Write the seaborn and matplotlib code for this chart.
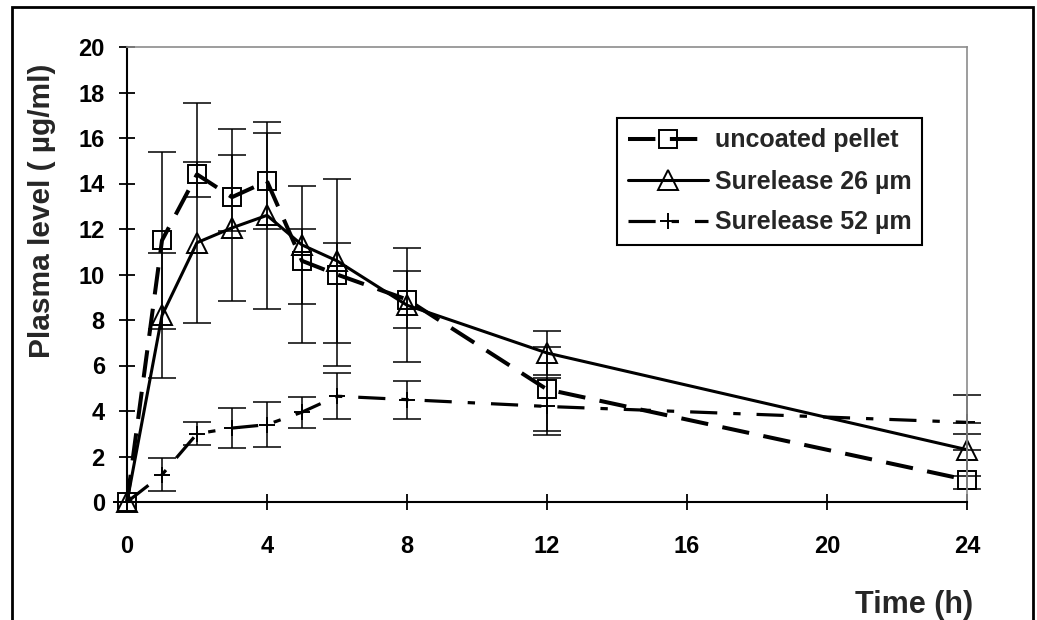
import seaborn as sns
import matplotlib.pyplot as plt
from matplotlib.patches import Rectangle

# Sampling times (h)
time_h = [0, 1, 2, 3, 4, 5, 6, 8, 12, 24]

# Plasma levels (µg/ml)
uncoated = [0, 11.5, 14.4, 13.4, 14.1, 10.6, 10.0, 8.9, 4.95, 0.97]
uncoated_err_low = [0, 3.9, 1.0, 1.5, 2.1, 3.6, 4.0, 1.25, 1.85, 0.4]
uncoated_err_high = [0, 3.9, 3.15, 3.0, 2.1, 1.4, 1.4, 1.25, 1.85, 2.0]

sure26 = [0, 8.2, 11.4, 12.05, 12.6, 11.3, 10.6, 8.65, 6.55, 2.3]
sure26_err = [0, 2.75, 3.55, 3.2, 4.1, 2.6, 3.6, 2.5, 0.95, 1.17]

sure52 = [0, 1.2, 3.0, 3.25, 3.4, 3.95, 4.65, 4.5, 4.2, 3.5]
sure52_err = [0, 0.72, 0.5, 0.88, 0.98, 0.68, 1.0, 0.83, 1.25, 1.2]

x_ticks = [0, 4, 8, 12, 16, 20, 24]
y_ticks = [0, 2, 4, 6, 8, 10, 12, 14, 16, 18, 20]

sns.set_style("white")
plt.rcParams['font.family'] = ['Liberation Sans', 'DejaVu Sans']
plt.rcParams['font.weight'] = 'bold'

fig = plt.figure(figsize=(10.37, 6.2), dpi=100)
ax = fig.add_axes([127 / 1037, 118 / 620, 840 / 1037, 455 / 620])

series = [
    ('uncoated pellet', uncoated, [uncoated_err_low, uncoated_err_high], 's', (0, (6.8, 3.6)), 2.9, 13),
    ('Surelease 26 µm', sure26, [sure26_err, sure26_err], '^', '-', 2.2, 14),
    ('Surelease 52 µm', sure52, [sure52_err, sure52_err], '+', (0, (8.5, 5.0, 2.3, 5.0)), 2.3, 11),
]

for label, vals, err, mk, ls, lw, ms in series:
    ax.errorbar(time_h, vals, yerr=err, fmt='none', ecolor='black',
                elinewidth=1.1, capsize=10, capthick=1.1, clip_on=False)
    sns.lineplot(x=time_h, y=vals, ax=ax, color='black', linestyle=ls,
                 linewidth=lw, marker=mk, markersize=ms,
                 markerfacecolor='none', markeredgecolor='black',
                 markeredgewidth=1.4, label=label, clip_on=False)

ax.set_xlim(0, 24)
ax.set_ylim(0, 20)
ax.set_xticks(x_ticks)
ax.set_yticks(y_ticks)
ax.tick_params(direction='inout', length=12, width=1.3, labelsize=17,
               colors='black', bottom=True, left=True, top=False, right=False)
ax.tick_params(axis='x', pad=18)
ax.tick_params(axis='y', pad=10)

# Excel-like frame: black axes, grey plot-area border
for side in ['left', 'bottom']:
    ax.spines[side].set_color('black')
    ax.spines[side].set_linewidth(1.5)
for side in ['top', 'right']:
    ax.spines[side].set_color('#8c8c8c')
    ax.spines[side].set_linewidth(1.2)

ax.set_ylabel('Plasma level ( µg/ml)', fontsize=21.5, fontweight='bold')
ax.yaxis.set_label_coords(-0.084, 0.64)
ax.set_xlabel('Time (h)', fontsize=22, fontweight='bold', ha='right', va='center')
ax.xaxis.set_label_coords(1.007, -0.226)

leg = ax.legend(loc='upper left', bbox_to_anchor=(617 / 1037, 1 - 118 / 620),
                bbox_transform=fig.transFigure, frameon=True, fancybox=False,
                edgecolor='black', framealpha=1, fontsize=18, handlelength=3.2,
                handletextpad=0.3, borderpad=0.42, labelspacing=0.68,
                borderaxespad=0)
leg.get_frame().set_linewidth(1.5)

# Outer chart border
fig.add_artist(Rectangle((12 / 1037, -0.1), (1033 - 12) / 1037, 1.1 - 7 / 620,
                         transform=fig.transFigure, fill=False,
                         edgecolor='black', linewidth=2))

plt.savefig('out.png', dpi=100)
plt.close()
